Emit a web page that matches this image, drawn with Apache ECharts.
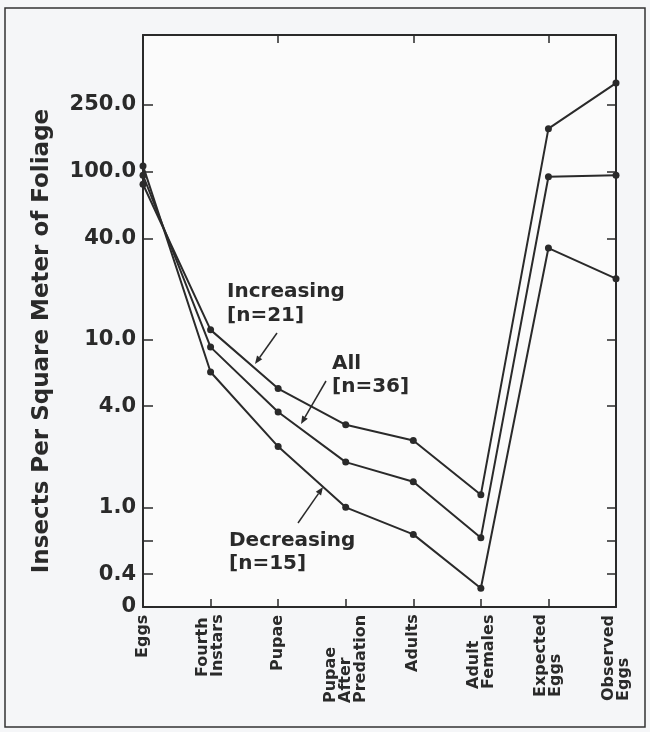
<!DOCTYPE html>
<html>
<head>
<meta charset="utf-8">
<script src="https://cdn.jsdelivr.net/npm/echarts@6/dist/echarts.min.js"></script>
<style>
html,body{margin:0;padding:0;background:#f5f6f8;}
#c{width:650px;height:732px;}
</style>
</head>
<body>
<div id="c"></div>
<script>
const categories = ['Eggs', 'Fourth\nInstars', 'Pupae', 'Pupae\nAfter\nPredation', 'Adults', 'Adult\nFemales', 'Expected\nEggs', 'Observed\nEggs'];
const increasing = [84, 11.4, 5.1, 3.1, 2.5, 1.19, 180, 336];
const allGroups = [95, 9.0, 3.7, 1.86, 1.42, 0.66, 93, 95];
const decreasing = [108, 6.4, 2.3, 1.0, 0.69, 0.33, 35, 23];
const yTickValues = [0.255, 0.4, 0.63, 1, 4, 10, 40, 100, 250];
const yTickLabels = ['0', '0.4', '', '1.0', '4.0', '10.0', '40.0', '100.0', '250.0'];
const yMin = 0.255, yMax = 650;

const INK = '#2a2a2a';
const FONT = '"DejaVu Sans", sans-serif';

// label widths for left-aligned multi-line rotated category labels
const cv = document.createElement('canvas').getContext('2d');
cv.font = 'bold 16px "DejaVu Sans"';
const rich = {};
categories.forEach((c, i) => {
  const w = Math.max(...c.split('\n').map(l => cv.measureText(l).width));
  rich['w' + i] = {width: Math.ceil(w) + 1, align: 'left', fontFamily: FONT, fontWeight: 'bold', fontSize: 16, color: INK, lineHeight: 15};
});
const catFormatter = (v, idx) => {
  const i = categories.indexOf(v);
  return v.split('\n').map(l => '{w' + i + '|' + l + '}').join('\n');
};
const labelValues = yTickValues.filter((v, i) => yTickLabels[i] !== '');
const yFormatter = (v) => {
  const i = yTickValues.findIndex(t => Math.abs(t - v) / t < 1e-6);
  return i >= 0 ? yTickLabels[i] : '';
};

const chart = echarts.init(document.getElementById('c'), null, {renderer: 'canvas'});

function arrow(x1, y1, x2, y2) {
  const a = Math.atan2(y2 - y1, x2 - x1), L = 8, W = 3.2;
  const bx = x2 - L * Math.cos(a), by = y2 - L * Math.sin(a);
  const px = -Math.sin(a) * W, py = Math.cos(a) * W;
  return [
    {type: 'line', shape: {x1, y1, x2: bx, y2: by}, style: {stroke: INK, lineWidth: 1.5}},
    {type: 'polygon', shape: {points: [[x2, y2], [bx + px, by + py], [bx - px, by - py]]}, style: {fill: INK}}
  ];
}
function label(x, y, text) {
  return {type: 'text', x, y, style: {text, fill: INK, font: 'bold 20px "DejaVu Sans"', textAlign: 'left', textVerticalAlign: 'middle'}};
}

const seriesStyle = (name, data) => ({
  name, type: 'line', data,
  symbol: 'circle', symbolSize: 7,
  lineStyle: {color: INK, width: 2},
  itemStyle: {color: INK},
  emphasis: {disabled: true},
  animation: false
});

chart.setOption({
  backgroundColor: '#f5f6f8',
  animation: false,
  grid: {left: 143, right: 34, top: 35, bottom: 125, show: true, backgroundColor: '#fbfbfb', borderWidth: 0, outerBoundsMode: 'none'},
  xAxis: [{
    type: 'category', data: categories, boundaryGap: false, position: 'bottom',
    axisLine: {lineStyle: {color: INK, width: 2}},
    axisTick: {inside: true, length: 8, lineStyle: {color: INK, width: 1.5}},
    axisLabel: {rotate: 90, margin: 6, interval: 0, formatter: catFormatter, rich, color: INK},
    splitLine: {show: false}
  }, {
    type: 'category', data: categories, boundaryGap: false, position: 'top',
    axisLine: {lineStyle: {color: INK, width: 2}},
    axisTick: {inside: true, length: 8, lineStyle: {color: INK, width: 1.5}},
    axisLabel: {show: false},
    splitLine: {show: false}
  }],
  yAxis: [{
    type: 'log', logBase: 10, min: yMin, max: yMax, position: 'left',
    axisLine: {show: true, lineStyle: {color: INK, width: 2}},
    axisTick: {show: true, inside: true, length: 10, customValues: yTickValues, lineStyle: {color: INK, width: 1.5}},
    axisLabel: {customValues: labelValues, formatter: yFormatter, margin: 7, color: INK, fontFamily: FONT, fontWeight: 'bold', fontSize: 21},
    splitLine: {show: false},
    minorTick: {show: false},
    name: 'Insects Per Square Meter of Foliage',
    nameLocation: 'middle', nameRotate: 90, nameGap: 89,
    nameTextStyle: {color: INK, fontFamily: FONT, fontWeight: 'bold', fontSize: 23, padding: [0, 40, 0, 0]}
  }, {
    type: 'log', logBase: 10, min: yMin, max: yMax, position: 'right',
    axisLine: {show: true, lineStyle: {color: INK, width: 2}},
    axisTick: {show: true, inside: true, length: 9, customValues: yTickValues, lineStyle: {color: INK, width: 1.5}},
    axisLabel: {show: false},
    splitLine: {show: false}
  }],
  series: [
    seriesStyle('Increasing', increasing),
    seriesStyle('All', allGroups),
    seriesStyle('Decreasing', decreasing)
  ],
  graphic: [
    {type: 'rect', shape: {x: 5, y: 8, width: 640, height: 719}, style: {fill: null, stroke: '#333', lineWidth: 1.5}, z: -1},
    label(227, 292, 'Increasing'),
    label(227, 316, '[n=21]'),
    ...arrow(277, 333, 255, 364),
    label(332, 364, 'All'),
    label(332, 387, '[n=36]'),
    ...arrow(326, 381, 301, 424),
    label(229, 541, 'Decreasing'),
    label(229, 564, '[n=15]'),
    ...arrow(298, 523, 323, 487)
  ]
});
</script>
</body>
</html>
